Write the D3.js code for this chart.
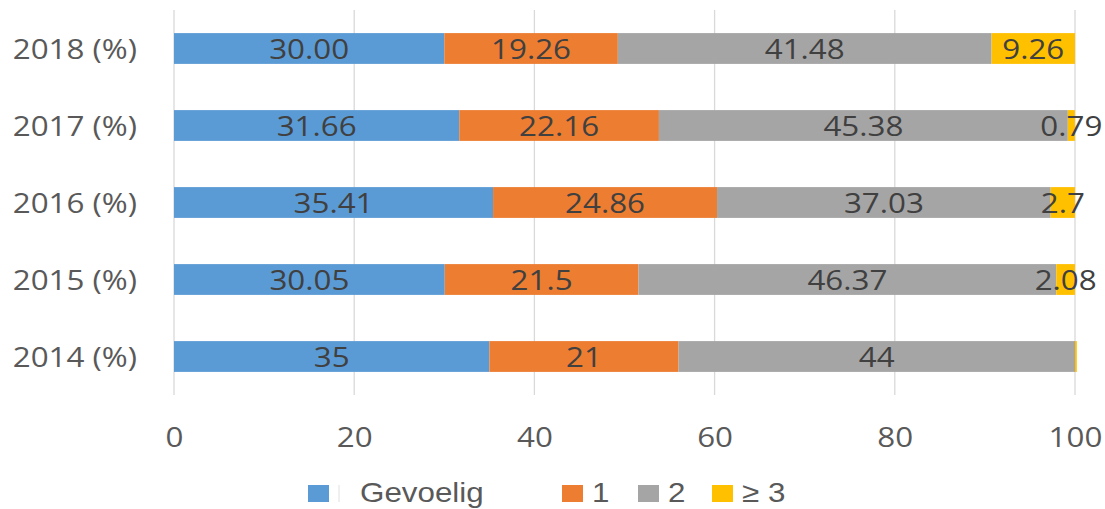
<!DOCTYPE html>
<html>
<head>
<meta charset="utf-8">
<script src="https://cdn.jsdelivr.net/npm/d3@7/dist/d3.min.js"></script>
<style>
  html, body { margin: 0; padding: 0; background: #ffffff; }
  svg { display: block; }
</style>
</head>
<body>
<svg id="chart" width="1105" height="509"></svg>
<script>
// Categories (top to bottom) and the share of each group per year, in %
const categories = ["2018 (%)", "2017 (%)", "2016 (%)", "2015 (%)", "2014 (%)"];
const seriesNames = ["Gevoelig", "1", "2", "≥ 3"];
const gevoelig = [30.00, 31.66, 35.41, 30.05, 35];
const een      = [19.26, 22.16, 24.86, 21.5, 21];
const twee     = [41.48, 45.38, 37.03, 46.37, 44];
const drieplus = [9.26, 0.79, 2.7, 2.08, 0.2];
// Text shown on each segment (null = no label)
const labelsGevoelig = ["30.00", "31.66", "35.41", "30.05", "35"];
const labelsEen      = ["19.26", "22.16", "24.86", "21.5", "21"];
const labelsTwee     = ["41.48", "45.38", "37.03", "46.37", "44"];
const labelsDrie     = ["9.26", "0.79", "2.7", "2.08", null];
const xTicks = [0, 20, 40, 60, 80, 100];

const colors = ["#5B9BD5", "#ED7D31", "#A5A5A5", "#FFC000"];
const stretch = 1.12;   // slight horizontal widening of all text

const svg = d3.select("#chart");
const plotLeft = 174, plotRight = 1075, plotTop = 10, plotBottom = 395;

const x = d3.scaleLinear().domain([0, 100]).range([plotLeft, plotRight]);
const y = d3.scaleBand().domain(categories).range([plotTop, plotBottom])
  .paddingInner(0.6).paddingOuter(0.3);

const seriesValues = [gevoelig, een, twee, drieplus];
const seriesLabels = [labelsGevoelig, labelsEen, labelsTwee, labelsDrie];

const rows = categories.map((c, i) => {
  const r = { cat: c };
  seriesNames.forEach((s, k) => { r[s] = seriesValues[k][i]; });
  return r;
});
const stacked = d3.stack().keys(seriesNames)(rows);

// vertical gridlines
svg.append("g").selectAll("line").data(xTicks).join("line")
  .attr("x1", d => x(d)).attr("x2", d => x(d))
  .attr("y1", plotTop).attr("y2", plotBottom)
  .attr("stroke", "#d9d9d9").attr("stroke-width", 1.3);

// stacked bars
const layers = svg.append("g").selectAll("g").data(stacked).join("g")
  .attr("fill", (d, k) => colors[k]);
layers.selectAll("rect").data(d => d).join("rect")
  .attr("x", d => x(d[0]))
  .attr("width", d => x(d[1]) - x(d[0]))
  .attr("y", d => y(d.data.cat))
  .attr("height", y.bandwidth());

// segment value labels
const lbl = svg.append("g")
  .attr("font-family", "'Open Sans', 'Noto Sans', sans-serif")
  .attr("font-size", 28).attr("fill", "#404040");
stacked.forEach((layer, k) => {
  layer.forEach((d, i) => {
    const t = seriesLabels[k][i];
    if (t == null) return;
    const cx = (x(d[0]) + x(d[1])) / 2;
    const cy = y(d.data.cat) + y.bandwidth() / 2;
    lbl.append("text")
      .attr("transform", `translate(${cx},${cy}) scale(${stretch},1)`)
      .attr("text-anchor", "middle")
      .attr("dy", "0.36em")
      .text(t);
  });
});

// category labels
svg.append("g").selectAll("text").data(categories).join("text")
  .attr("transform", d => `translate(137,${y(d) + y.bandwidth() / 2}) scale(${stretch},1)`)
  .attr("text-anchor", "end")
  .attr("dy", "0.36em")
  .attr("font-family", "'Open Sans', 'Noto Sans', sans-serif")
  .attr("font-size", 28).attr("fill", "#595959")
  .text(d => d);

// bottom axis: labels only
const axis = svg.append("g")
  .attr("transform", `translate(0,${plotBottom})`)
  .call(d3.axisBottom(x).tickValues(xTicks).tickSize(0).tickPadding(0));
axis.select(".domain").remove();
axis.selectAll("text")
  .attr("y", 52).attr("dy", null)
  .attr("transform", `scale(${stretch},1)`)
  .attr("font-family", "'Open Sans', 'Noto Sans', sans-serif")
  .attr("font-size", 28).attr("fill", "#595959");

// legend
const legend = svg.append("g")
  .attr("font-family", "'Liberation Sans', Arial, sans-serif")
  .attr("font-size", 28).attr("fill", "#595959");
const legendX = [308, 562, 638, 712];
const textX = [360, 592, 668, 742];
const legendBase = 502;
seriesNames.forEach((s, k) => {
  legend.append("rect")
    .attr("x", legendX[k]).attr("y", legendBase - 17)
    .attr("width", 21).attr("height", 17)
    .attr("fill", colors[k]);
  legend.append("text")
    .attr("transform", `translate(${textX[k]},${legendBase}) scale(${stretch},1)`)
    .text(s);
});
legend.append("line")
  .attr("x1", 339).attr("x2", 339).attr("y1", legendBase - 17).attr("y2", legendBase)
  .attr("stroke", "#e0e0e0").attr("stroke-width", 1);
</script>
</body>
</html>
